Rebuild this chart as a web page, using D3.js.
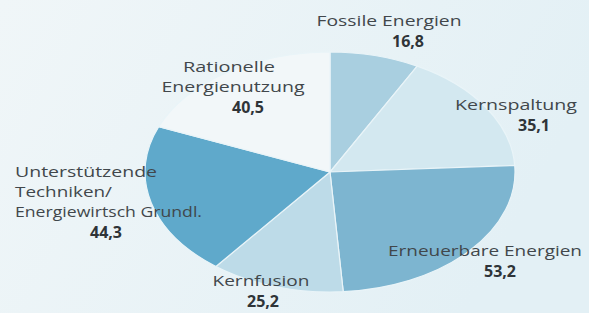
<!DOCTYPE html>
<html>
<head>
<meta charset="utf-8">
<script src="https://cdn.jsdelivr.net/npm/d3@7"></script>
<style>
  body { margin: 0; background: #eaf3f6; }
  svg { display: block; }
</style>
</head>
<body>
<div id="app"></div>
<script>
// Chart data
let categories = ["Fossile Energien", "Kernspaltung", "Erneuerbare Energien", "Kernfusion",
                  "Unterstützende Techniken/ Energiewirtsch Grundl.", "Rationelle Energienutzung"]
let values = [16.8, 35.1, 53.2, 25.2, 44.3, 40.5]
let valueLabels = ["16,8", "35,1", "53,2", "25,2", "44,3", "40,5"]
let colors = ["#a9cfe0", "#d3e8f0", "#7db5d0", "#bddbe8", "#5fa9cb", "#f2f7f9"]

// label lines per slice (text broken like in the print)
let labelLines = [
    ["Fossile Energien"],
    ["Kernspaltung"],
    ["Erneuerbare Energien"],
    ["Kernfusion"],
    ["Unterstützende", "Techniken/", "Energiewirtsch Grundl."],
    ["Rationelle", "Energienutzung"]
]

// where the labels sit: x of each line, first baseline, anchor, value x, widths
let labelLayout = [
    {x: [389], y: 26, anchor: "middle", vx: 408, w: [145]},
    {x: [516], y: 110, anchor: "middle", vx: 534, w: [122]},
    {x: [485], y: 256, anchor: "middle", vx: 500, w: [194]},
    {x: [261], y: 286, anchor: "middle", vx: 263, w: [97]},
    {x: [15, 15, 15], y: 177, anchor: "start", vx: 106, w: [142, 97, 187]},
    {x: [229, 233], y: 72, anchor: "middle", vx: 248, w: [92, 143]}
]

let width = 589
let height = 313
let cx = 330, cy = 172
let rx = 185, ry = 120

let svg = d3.select("#app").append("svg")
    .attr("width", width)
    .attr("height", height)

let defs = svg.append("defs")
let grad = defs.append("linearGradient").attr("id", "bg")
    .attr("x1", 0).attr("x2", 1).attr("y1", 0).attr("y2", 0.3)
grad.append("stop").attr("offset", "0%").attr("stop-color", "#f0f6f8")
grad.append("stop").attr("offset", "100%").attr("stop-color", "#e3f0f5")

svg.append("rect")
    .attr("width", width)
    .attr("height", height)
    .attr("fill", "url(#bg)")

let pie = d3.pie().sort(null).value(d => d)
let arc = d3.arc().innerRadius(0).outerRadius(rx)

// pie drawn as a circle and squashed into the ellipse of the print
let g = svg.append("g")
    .attr("transform", "translate(" + cx + "," + cy + ") scale(1," + (ry / rx) + ")")

g.selectAll("path")
    .data(pie(values))
    .enter().append("path")
    .attr("d", arc)
    .attr("fill", (d, i) => colors[i])
    .attr("stroke", "#e9f4f8")
    .attr("stroke-width", 1.2)
    .attr("vector-effect", "non-scaling-stroke")

// labels
let labels = svg.append("g")
    .attr("font-family", "'Open Sans', 'DejaVu Sans', sans-serif")
    .attr("font-size", 14)

labelLines.forEach((lines, i) => {
    let lay = labelLayout[i]
    lines.forEach((line, j) => {
        labels.append("text")
            .attr("x", lay.x[j])
            .attr("y", lay.y + j * 20)
            .attr("text-anchor", lay.anchor)
            .attr("fill", "#41474b")
            .attr("textLength", lay.w[j])
            .attr("lengthAdjust", "spacingAndGlyphs")
            .text(line)
    })
    labels.append("text")
        .attr("x", lay.vx)
        .attr("y", lay.y + (lines.length - 1) * 20 + 21)
        .attr("text-anchor", "middle")
        .attr("fill", "#2f3438")
        .attr("font-weight", "bold")
        .attr("font-size", 16)
        .text(valueLabels[i])
})
</script>
</body>
</html>
